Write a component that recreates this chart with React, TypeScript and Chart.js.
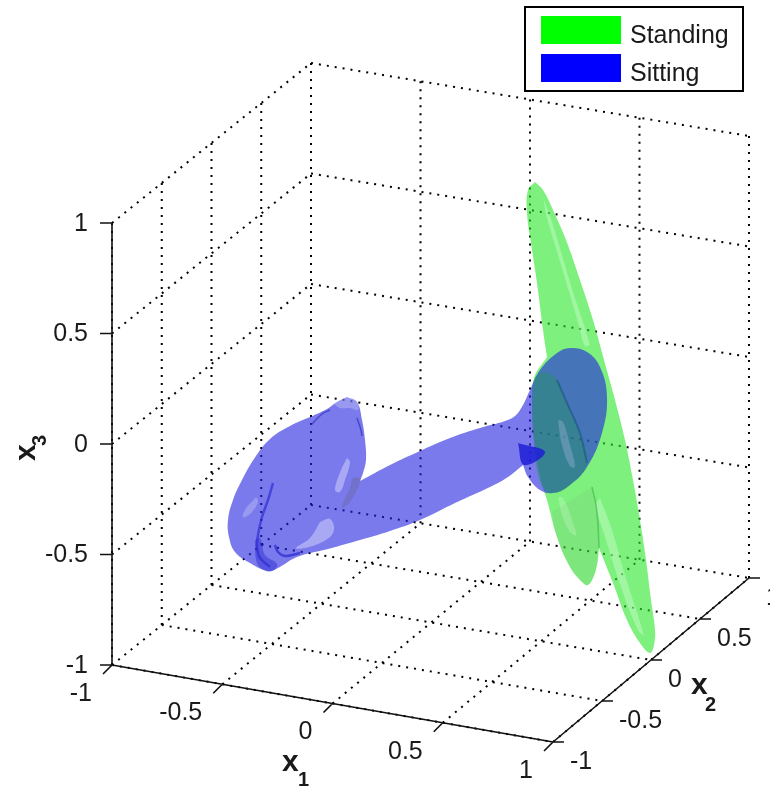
import React, { useEffect, useRef } from "react";
import { Chart, registerables } from "chart.js";

Chart.register(...registerables);

type P = [number, number];

// Axis values
const tickValues = [-1, -0.5, 0, 0.5, 1];
const tickLabels = ["-1", "-0.5", "0", "0.5", "1"];
const legendNames = ["Standing", "Sitting"];

// Outlines, in image-plane units
const standingOutline: P[] = [
  [535, 182], [543, 190], [553, 210], [566, 240], [580, 280], [593, 320], [604, 360], [615, 400],
  [625, 440], [633, 480], [640, 520], [646, 560], [651, 600], [655, 630], [654, 645], [650, 653],
  [640, 643], [627, 620], [613, 583], [599, 548], [599, 548], [597, 565], [593, 578], [588, 585], [583, 583],
  [570, 567], [557, 537], [547, 500], [540, 477], [534, 440], [532, 405], [534, 378], [547, 357], [547, 357],
  [543, 330], [537, 283], [531, 243], [527, 213], [528, 190], [535, 182],
];
const standingShortShade: P[] = [
  [592, 487], [592, 487], [599, 520], [598, 550], [595, 573], [588, 585], [583, 583], [570, 567], [557, 537],
  [552, 512], [552, 512], [592, 487],
];
const standingRidgeTop: P[] = [
  [543, 197], [552, 222], [562, 255], [574, 295], [584, 325], [590, 345], [590, 345], [585, 346], [578, 322],
  [567, 285], [556, 248], [547, 218], [543, 197],
];
const standingRidgeLow: P[] = [
  [600, 498], [600, 498], [612, 530], [625, 575], [640, 622], [644, 636], [644, 636], [638, 630], [622, 590], [606, 540],
  [596, 505], [600, 498],
];
const standingRidgeShort: P[] = [
  [558, 497], [563, 498], [572, 520], [576, 535], [570, 532], [562, 515], [558, 497],
];
const standingCrease: P[] = [[592, 487], [596, 505], [598, 525], [599, 548]];

const sittingOutline: P[] = [
  [347, 397], [357, 402], [362, 420], [365, 440], [366, 460], [363, 473], [360, 481], [360, 481], [390, 465],
  [420, 451], [450, 438], [480, 428], [505, 421], [515, 416], [523, 405], [530, 390], [540, 370], [557, 353], [570, 348], [587, 352],
  [600, 367], [607, 397], [602, 433], [587, 467], [570, 485], [553, 493], [540, 490], [528, 477],
  [523, 465], [523, 465], [508, 477], [490, 487], [455, 503], [420, 520], [390, 531], [360, 540], [328, 549], [297, 557], [278, 568], [268, 571], [250, 563],
  [235, 552], [229, 537], [228, 520], [233, 500], [242, 480], [254, 459], [270, 439], [290, 426],
  [310, 417], [327, 409], [337, 402], [347, 397],
];
const sittingTipGlow: P[] = [
  [334, 404], [347, 397], [357, 402], [358, 410], [350, 408], [340, 408], [334, 404],
];
const sittingRimShade: P[] = [
  [361, 478], [358, 488], [350, 502], [342, 508], [345, 498], [350, 488], [353, 478], [361, 478],
];
const sittingLobeGlowRight: P[] = [
  [347, 458], [350, 462], [345, 480], [340, 492], [335, 490], [341, 470], [347, 458],
];
const sittingLobeGlowLeft: P[] = [
  [256, 497], [258, 502], [250, 514], [243, 517], [245, 510], [256, 497],
];
const sittingTubeGlow: P[] = [
  [320, 522], [330, 519], [334, 530], [326, 540], [305, 548], [296, 548], [310, 538], [320, 522],
];
const sittingBallShade: P[] = [
  [535, 377], [545, 372], [557, 380], [567, 403], [580, 433], [587, 463], [570, 485], [553, 493],
  [540, 482], [534, 440], [533, 405], [535, 377],
];
const sittingBallGlow: P[] = [
  [558, 420], [563, 422], [570, 445], [575, 467], [570, 466], [562, 445], [558, 420],
];
const sittingSmudge: P[] = [
  [255, 540], [260, 538], [265, 555], [277, 564], [274, 570], [266, 571], [257, 563], [255, 540],
];
const sittingFoldLow: P[] = [
  [273, 483], [268, 500], [262, 517], [258, 535], [257, 547], [260, 558], [270, 567],
];
const sittingFoldCurl: P[] = [
  [275, 545], [278, 552], [285, 556], [300, 553],
];
const sittingFoldHigh: P[] = [
  [311, 425], [322, 414], [330, 410],
];
const sittingFoldRim: P[] = [
  [357, 418], [361, 430], [362, 436],
];
const sittingBallCrease: P[] = [[557, 380], [567, 403], [580, 433], [587, 463]];
const sittingArrow: P[] = [[518, 443], [545, 452], [524, 465], [518, 443]];

// Corners of the box floor in the image plane, and its height
const floorA: P = [112, 665];
const floorB: P = [553, 742];
const floorC: P = [749, 578];
const floorD: P = [311, 505];
const boxHeight = 442;

const project = (x1: number, x2: number, x3: number): P => {
  const s = (x1 + 1) / 2;
  const t = (x2 + 1) / 2;
  const x = (1 - s) * (1 - t) * floorA[0] + s * (1 - t) * floorB[0] + s * t * floorC[0] + (1 - s) * t * floorD[0];
  const y = (1 - s) * (1 - t) * floorA[1] + s * (1 - t) * floorB[1] + s * t * floorC[1] + (1 - s) * t * floorD[1];
  return [x, y - (boxHeight * (x3 + 1)) / 2];
};

const path = (pts: P[]) => pts.map(([x, y]) => ({ x, y }));
const gap = { x: NaN, y: NaN };

const gridPoints = () => {
  const out: { x: number; y: number }[] = [];
  const seg = (a: P, b: P) => out.push(...path([a, b]), gap);
  for (const v of tickValues) {
    seg(project(v, -1, -1), project(v, 1, -1));
    seg(project(-1, v, -1), project(1, v, -1));
    seg(project(-1, v, -1), project(-1, v, 1));
    seg(project(v, 1, -1), project(v, 1, 1));
    seg(project(-1, -1, v), project(-1, 1, v));
    seg(project(-1, 1, v), project(1, 1, v));
  }
  return out;
};

const axisPoints = () => {
  const out: { x: number; y: number }[] = [];
  const seg = (a: P, b: P) => out.push(...path([a, b]), gap);
  seg(project(-1, -1, -1), project(-1, -1, 1));
  seg(project(-1, -1, -1), project(1, -1, -1));
  seg(project(1, -1, -1), project(1, 1, -1));
  for (const v of tickValues) {
    const z = project(-1, -1, v);
    seg(z, [z[0] - 12, z[1]]);
    const a = project(v, -1, -1);
    seg(a, [a[0] - 9, a[1] + 9]);
    const b = project(1, v, -1);
    seg(b, [b[0] + 11, b[1]]);
  }
  return out;
};

const overlayPlugin = {
  id: "overlay",
  afterDraw(chart: Chart) {
    const c = chart.ctx;
    c.save();
    c.fillStyle = "#1a1a1a";
    c.font = "25px 'Liberation Sans'";
    c.textBaseline = "middle";
    tickValues.forEach((v, i) => {
      const z = project(-1, -1, v);
      c.textAlign = "right";
      c.fillText(tickLabels[i], 88, z[1] + 1);
      const a = project(v, -1, -1);
      c.fillText(tickLabels[i], a[0] - 20, a[1] + 29);
      const b = project(1, v, -1);
      c.textAlign = "left";
      c.fillText(tickLabels[i], b[0] + 17, b[1] + 20);
    });

    // axis names
    const nameFont = "bold 30px 'Liberation Sans'";
    const subFont = "bold 20px 'Liberation Sans'";
    c.textAlign = "left";
    c.font = nameFont;
    c.fillText("x", 282, 763);
    c.fillText("x", 691, 686);
    c.font = subFont;
    c.fillText("1", 298, 780);
    c.fillText("2", 705, 705);
    c.save();
    c.translate(27, 461);
    c.rotate(-Math.PI / 2);
    c.font = nameFont;
    c.fillText("x", 0, 0);
    c.font = subFont;
    c.fillText("3", 15, 13);
    c.restore();

    // legend
    c.fillStyle = "#ffffff";
    c.fillRect(525, 7, 218, 84);
    c.strokeStyle = "#000000";
    c.lineWidth = 2;
    c.strokeRect(525, 7, 218, 84);
    c.fillStyle = "#00ff00";
    c.fillRect(541, 16, 80, 28);
    c.fillStyle = "#0000ff";
    c.fillRect(541, 54, 80, 28);
    c.fillStyle = "#1a1a1a";
    c.font = "25px 'Liberation Sans'";
    c.fillText(legendNames[0], 630, 36);
    c.fillText(legendNames[1], 630, 74);
    c.restore();
  },
};

export default function App() {
  const ref = useRef<HTMLCanvasElement>(null);
  useEffect(() => {
    const area = (label: string, pts: P[], color: string) => ({
      label,
      data: path(pts),
      showLine: true,
      fill: "shape",
      backgroundColor: color,
      borderWidth: 0,
      borderColor: "transparent",
      pointRadius: 0,
      tension: 0.4,
    });
    const stroke = (label: string, pts: any[], color: string, width: number, dash?: number[], tension = 0) => ({
      label,
      data: pts,
      showLine: true,
      fill: false,
      borderColor: color,
      borderWidth: width,
      borderDash: dash,
      pointRadius: 0,
      tension,
      spanGaps: false,
    });
    const layers: any[] = [
      stroke("grid", gridPoints(), "#000000", 2, [2, 6]),
      area("Standing", standingOutline, "rgba(40,230,40,0.6)"),
      area("standing shade", standingShortShade, "rgba(120,150,110,0.1)"),
      area("standing ridge top", standingRidgeTop, "rgba(225,255,225,0.35)"),
      area("standing ridge low", standingRidgeLow, "rgba(225,255,225,0.35)"),
      area("standing ridge short", standingRidgeShort, "rgba(225,255,225,0.25)"),
      stroke("standing crease", path(standingCrease), "rgba(40,160,60,0.45)", 1.5, undefined, 0.3),
      area("Sitting", sittingOutline, "rgba(33,33,223,0.6)"),
      area("sitting tip", sittingTipGlow, "rgba(225,225,255,0.3)"),
      area("sitting rim", sittingRimShade, "rgba(95,95,130,0.3)"),
      area("lobe glow right", sittingLobeGlowRight, "rgba(225,225,255,0.45)"),
      area("lobe glow left", sittingLobeGlowLeft, "rgba(225,225,255,0.3)"),
      area("tube glow", sittingTubeGlow, "rgba(225,225,255,0.45)"),
      area("ball shade", sittingBallShade, "rgba(30,150,90,0.4)"),
      area("ball glow", sittingBallGlow, "rgba(190,190,240,0.3)"),
      area("arrow", sittingArrow, "rgba(30,30,215,0.85)"),
      area("smudge", sittingSmudge, "rgba(40,40,210,0.45)"),
      stroke("fold low", path(sittingFoldLow), "rgba(40,40,210,0.65)", 2.5, undefined, 0.3),
      stroke("fold curl", path(sittingFoldCurl), "rgba(40,40,210,0.7)", 2.5, undefined, 0.3),
      stroke("fold high", path(sittingFoldHigh), "rgba(50,50,190,0.7)", 1.5, undefined, 0.3),
      stroke("fold rim", path(sittingFoldRim), "rgba(50,50,190,0.7)", 1.5, undefined, 0.3),
      stroke("ball crease", path(sittingBallCrease), "rgba(25,80,130,0.55)", 2, undefined, 0.3),
      stroke("axes", axisPoints(), "#111111", 1.6),
    ];
    layers.forEach((d, i) => (d.order = -i));
    const chart = new Chart(ref.current!, {
      type: "scatter",
      data: { datasets: layers },
      options: {
        animation: false,
        responsive: false,
        layout: { padding: 0 },
        clip: false,
        scales: {
          x: { type: "linear", min: 0, max: 770, display: false },
          y: { type: "linear", min: 0, max: 791, reverse: true, display: false },
        },
        plugins: { legend: { display: false }, tooltip: { enabled: false } },
      },
      plugins: [overlayPlugin],
    } as any);
    return () => chart.destroy();
  }, []);
  return (
    <div style={{ position: "absolute", left: 0, top: 0, width: 770, height: 791, background: "#fff" }}>
      <canvas ref={ref} width={770} height={791} style={{ display: "block" }} />
    </div>
  );
}
